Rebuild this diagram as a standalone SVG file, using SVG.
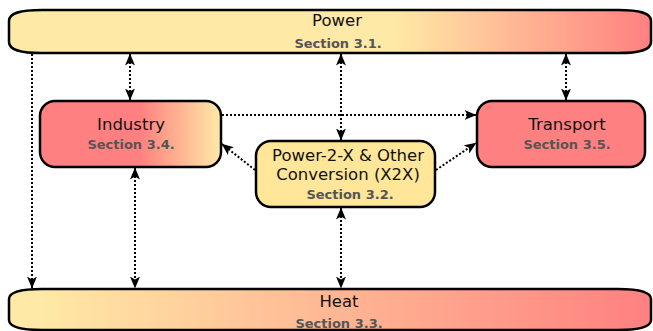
<svg xmlns="http://www.w3.org/2000/svg" width="653" height="331" viewBox="0 0 653 331">
<defs>
<linearGradient id="gPower" x1="0" y1="0" x2="1" y2="0">
<stop offset="0" stop-color="#FFE9A6"/><stop offset="0.6" stop-color="#FFE9A6"/><stop offset="1" stop-color="#FF8080"/>
</linearGradient>
<linearGradient id="gHeat" x1="0" y1="0" x2="1" y2="0">
<stop offset="0" stop-color="#FFE9A6"/><stop offset="0.05" stop-color="#FFE9A6"/><stop offset="1" stop-color="#FF8080"/>
</linearGradient>
<linearGradient id="gInd" x1="0" y1="0" x2="1" y2="0">
<stop offset="0" stop-color="#FF8080"/><stop offset="0.55" stop-color="#FF8080"/><stop offset="1" stop-color="#FFE9A6"/>
</linearGradient>
<marker id="ah" viewBox="0 0 12 10" markerWidth="12" markerHeight="10" refX="11.5" refY="5" orient="auto-start-reverse" markerUnits="userSpaceOnUse">
<path d="M0,0 L12,5 L0,10 L3,5 z" fill="#000"/>
</marker>
<style>
.box{stroke:#000;stroke-width:2.5}
.t{font-family:"DejaVu Sans",Verdana,sans-serif;font-size:16.5px;fill:#111;text-anchor:middle}
.s{font-family:"DejaVu Sans",Verdana,sans-serif;font-size:13px;font-weight:bold;fill:#555;text-anchor:middle}
.c{fill:none;stroke:#000;stroke-width:2;stroke-dasharray:2 2}
</style>
</defs>
<g id="power">
<path class="box" fill="url(#gPower)" d="M9,21 C9,13 20,10 42,10 L618,10 C640,10 651,13 651,21 L651,42 C651,50 640,53 618,53 L42,53 C20,53 9,50 9,42 Z"/>
<text class="t" x="337" y="26">Power</text>
<text class="s" x="338" y="48">Section 3.1.</text>
</g>
<g id="heat">
<path class="box" fill="url(#gHeat)" d="M9,299 C9,292 20,289 42,289 L618,289 C640,289 651,292 651,299 L651,320 C651,327 640,330 618,330 L42,330 C20,330 9,327 9,320 Z"/>
<text class="t" x="339" y="307">Heat</text>
<text class="s" x="339" y="328">Section 3.3.</text>
</g>
<g id="industry">
<rect class="box" x="40" y="101" width="181" height="66" rx="15" fill="url(#gInd)"/>
<text class="t" x="131" y="130">Industry</text>
<text class="s" x="131" y="149">Section 3.4.</text>
</g>
<g id="transport">
<rect class="box" x="477" y="101" width="168" height="66" rx="15" fill="#FF8080"/>
<text class="t" x="567" y="130">Transport</text>
<text class="s" x="567" y="149">Section 3.5.</text>
</g>
<g id="p2x">
<rect class="box" x="256" y="141" width="179" height="66" rx="15" fill="#FFE699"/>
<text class="t" x="348" y="161">Power-2-X &amp; Other</text>
<text class="t" x="348" y="180">Conversion (X2X)</text>
<text class="s" x="350" y="199">Section 3.2.</text>
</g>
<g id="connectors">
<line class="c" x1="32" y1="54" x2="32" y2="288" marker-end="url(#ah)"/>
<line class="c" x1="130" y1="54" x2="130" y2="100" marker-start="url(#ah)" marker-end="url(#ah)"/>
<line class="c" x1="135" y1="168" x2="135" y2="288" marker-start="url(#ah)" marker-end="url(#ah)"/>
<line class="c" x1="341" y1="54" x2="341" y2="140" marker-start="url(#ah)" marker-end="url(#ah)"/>
<line class="c" x1="341" y1="208" x2="341" y2="288" marker-start="url(#ah)" marker-end="url(#ah)"/>
<line class="c" x1="566" y1="54" x2="566" y2="100" marker-start="url(#ah)" marker-end="url(#ah)"/>
<line class="c" x1="222" y1="115" x2="476" y2="115" marker-end="url(#ah)"/>
<line class="c" x1="255" y1="170" x2="222" y2="144" marker-end="url(#ah)"/>
<line class="c" x1="436" y1="170" x2="476" y2="143" marker-end="url(#ah)"/>
</g>
</svg>
